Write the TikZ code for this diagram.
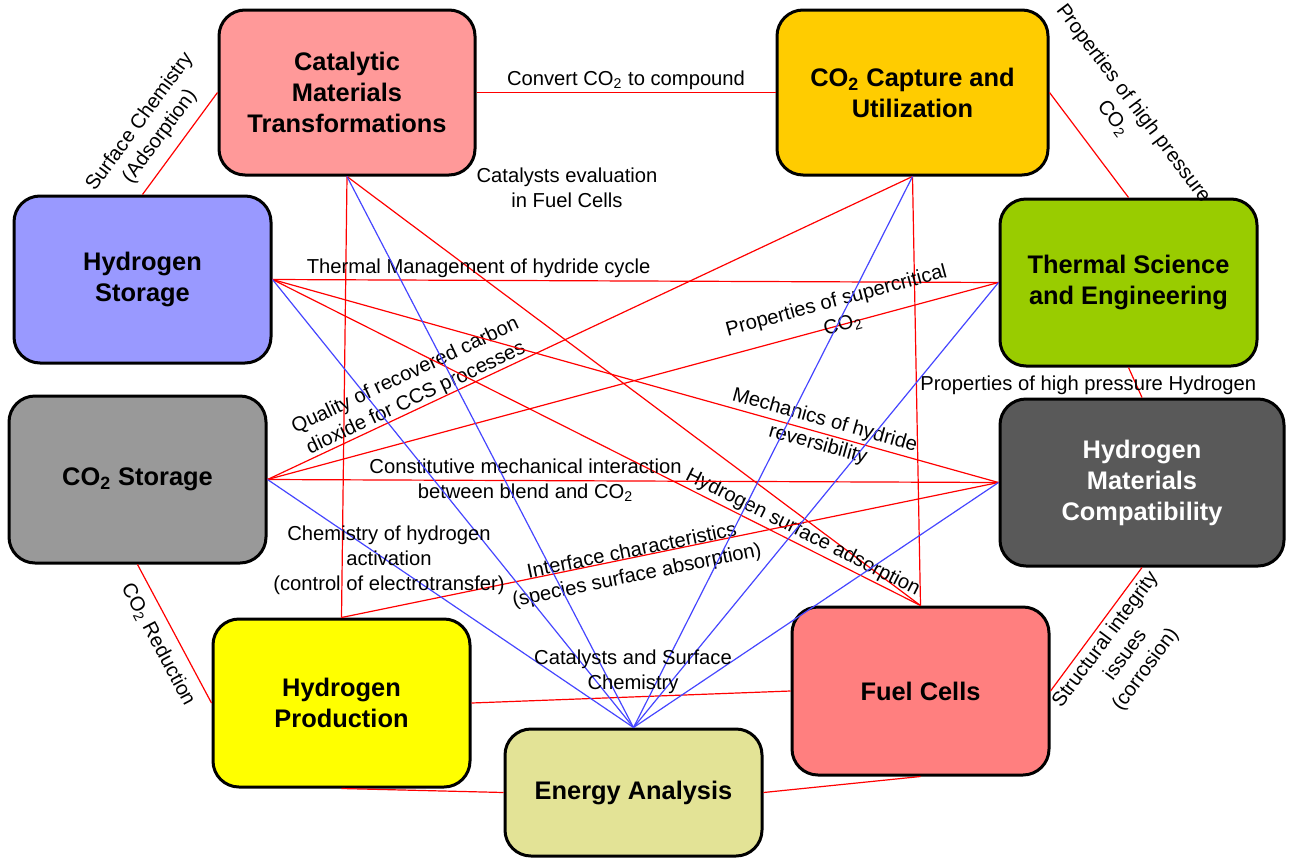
\documentclass[tikz,border=0pt]{standalone}
\usepackage{fontspec}
\setmainfont{Liberation Sans}

\definecolor{catpink}{HTML}{FF9999}
\definecolor{captgold}{HTML}{FFCC00}
\definecolor{storblue}{HTML}{9999FF}
\definecolor{thermgreen}{HTML}{99CC00}
\definecolor{cstorgrey}{HTML}{999999}
\definecolor{hmatgrey}{HTML}{595959}
\definecolor{prodyellow}{HTML}{FFFF00}
\definecolor{cellred}{HTML}{FF7F7F}
\definecolor{energykhaki}{HTML}{E3E396}
\definecolor{linkblue}{HTML}{4646FF}

\tikzset{
  box/.style={draw=black, line width=1.5pt, rounded corners=13pt, align=center,
    inner sep=2pt, font=\fontsize{12.7}{15.5}\selectfont\bfseries},
  rlink/.style={draw=red, line width=0.6pt},
  blink/.style={draw=linkblue, line width=0.6pt},
  lbl/.style={font=\fontsize{10.1}{12.5}\selectfont, align=center, inner sep=1pt},
}

\begin{document}
\begin{tikzpicture}[x=0.5pt,y=-0.5pt]
\useasboundingbox (0,0) rectangle (1290,857);

% topic boxes
\node[box, fill=catpink, minimum width=128pt, minimum height=82.5pt] (cat) at (347,92.5) {Catalytic\\Materials\\Transformations};
\node[box, fill=captgold, minimum width=135.5pt, minimum height=82.5pt] (capt) at (912.5,92.5) {CO\textsubscript{2} Capture and\\Utilization};
\node[box, fill=storblue, minimum width=128.5pt, minimum height=83.5pt] (hstor) at (142.5,279.5) {Hydrogen\\Storage};
\node[box, fill=thermgreen, minimum width=128.5pt, minimum height=83.5pt] (therm) at (1128.5,282.5) {Thermal Science\\and Engineering};
\node[box, fill=cstorgrey, minimum width=128.5pt, minimum height=83.5pt] (cstor) at (137.5,479.5) {CO\textsubscript{2} Storage};
\node[box, fill=hmatgrey, text=white, minimum width=142pt, minimum height=83.5pt] (hmat) at (1142,482.5) {Hydrogen\\Materials\\Compatibility};
\node[box, fill=prodyellow, minimum width=128.5pt, minimum height=84pt] (hprod) at (341.5,703) {Hydrogen\\Production};
\node[box, fill=cellred, minimum width=128.5pt, minimum height=84pt] (fcell) at (920.5,691) {Fuel Cells};
\node[box, fill=energykhaki, minimum width=128.5pt, minimum height=63.5pt] (energy) at (633.5,792.5) {Energy Analysis};

% red links
\draw[rlink] (cat.east) -- node[lbl, above, pos=0.5] {Convert CO\textsubscript{2} to compound} (capt.west);
\draw[rlink] (hstor.north) -- node[lbl, sloped, above=4pt, pos=0.45] {Surface Chemistry\\(Adsorption)} (cat.west);
\draw[rlink] (capt.east) -- node[lbl, sloped, above=12pt, pos=0.45] {Properties of high pressure\\CO\textsubscript{2}} (therm.north);
\draw[rlink] (therm.south) -- node[lbl, pos=0.58, xshift=-24pt] {Properties of high pressure Hydrogen} (hmat.north);
\draw[rlink] (fcell.east) -- node[lbl, sloped, below=1pt, pos=0.48] {Structural integrity\\issues\\(corrosion)} (hmat.south);
\draw[rlink] (cstor.south) -- node[lbl, sloped, below=4pt, pos=0.51] {CO\textsubscript{2} Reduction} (hprod.west);
\draw[rlink] (hprod.east) -- (fcell.west);
\draw[rlink] (hprod.south) -- (energy.west);
\draw[rlink] (energy.east) -- (fcell.south);
\draw[rlink] (cat.south) -- (hprod.north);
\draw[rlink] (cat.south) -- (fcell.north);
\draw[rlink] (capt.south) -- (fcell.north);
\draw[rlink] (cstor.east) -- node[lbl, sloped, above=-1pt, pos=0.237] {Quality of recovered carbon\\dioxide for CCS processes} (capt.south);
\draw[rlink] (hstor.east) -- node[lbl, above, pos=0.284] {Thermal Management of hydride cycle} (therm.west);
\draw[rlink] (hstor.east) -- node[lbl, sloped, pos=0.756] {Mechanics of hydride\\reversibility} (hmat.west);
\draw[rlink] (hstor.east) -- node[lbl, sloped, above=0pt, pos=0.81] {Hydrogen surface adsorption} (fcell.north);
\draw[rlink] (cstor.east) -- node[lbl, sloped, above=-6pt, pos=0.787] {Properties of supercritical\\CO\textsubscript{2}} (therm.west);
\draw[rlink] (cstor.east) -- node[lbl, pos=0.353] {Constitutive mechanical interaction\\between blend and CO\textsubscript{2}} (hmat.west);
\draw[rlink] (hprod.north) -- node[lbl, sloped, below=-9pt, pos=0.444] {Interface characteristics\\(species surface absorption)} (hmat.west);

% blue links into energy analysis
\foreach \src in {cat.south, hstor.east, cstor.east, capt.south, therm.west, hmat.west}
  \draw[blink] (\src) -- (energy.north);

% free labels
\node[lbl] (catfc) at (567,188) {Catalysts evaluation\\in Fuel Cells};
\node[lbl] (chemact) at (389,560) {Chemistry of hydrogen\\activation\\(control of electrotransfer)};
\node[lbl] (catsurf) at (633,672) {Catalysts and Surface\\Chemistry};

\end{tikzpicture}
\end{document}
